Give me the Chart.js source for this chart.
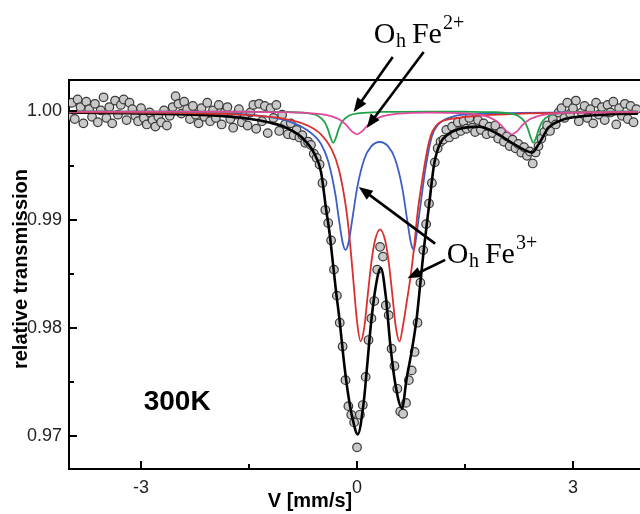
<!DOCTYPE html>
<html><head><meta charset="utf-8">
<script src="https://cdn.jsdelivr.net/npm/chart.js@4.4.0/dist/chart.umd.min.js"></script>
<style>html,body{margin:0;padding:0;background:#fff;overflow:hidden}canvas{display:block}</style>
</head><body><canvas id="c" width="640" height="514"></canvas>
<script>
// ---- tick labels ----
const xTicks = [-3, 0, 3];
const xMinorTicks = [-1.5, 1.5];
const yTicks = [0.97, 0.98, 0.99, 1.00];
const yMinorTicks = [0.975, 0.985, 0.995];

// ---- measured spectrum [velocity mm/s, relative transmission] ----
const measured = [
[-4.00,0.9996],[-3.96,1.0008],[-3.92,0.9993],[-3.88,1.0011],[-3.84,1.0004],[-3.80,0.9989],[-3.76,1.0009],[-3.72,1.0002],
[-3.68,0.9995],[-3.64,1.0007],[-3.60,0.9990],[-3.56,1.0001],[-3.52,1.0013],[-3.48,0.9994],[-3.44,1.0004],[-3.40,0.9989],
[-3.36,1.0010],[-3.32,0.9997],[-3.28,1.0006],[-3.24,1.0011],[-3.20,0.9992],[-3.16,1.0008],[-3.12,1.0002],[-3.08,0.9996],
[-3.04,0.9991],[-3.00,1.0003],[-2.96,0.9994],[-2.92,0.9988],[-2.88,0.9999],[-2.84,0.9992],[-2.80,0.9986],[-2.76,0.9995],
[-2.72,0.9990],[-2.68,1.0001],[-2.64,0.9987],[-2.60,0.9996],[-2.56,1.0004],[-2.52,1.0014],[-2.48,1.0007],[-2.44,0.9998],
[-2.40,1.0009],[-2.36,1.0002],[-2.32,0.9993],[-2.28,1.0005],[-2.24,0.9997],[-2.20,0.9989],[-2.16,1.0003],[-2.12,0.9995],
[-2.08,1.0008],[-2.04,0.9991],[-2.00,1.0001],[-1.96,0.9994],[-1.92,1.0006],[-1.88,0.9988],[-1.84,0.9999],[-1.80,1.0004],
[-1.76,0.9993],[-1.72,0.9985],[-1.68,0.9997],[-1.64,1.0002],[-1.60,0.9990],[-1.56,0.9996],[-1.52,0.9987],[-1.48,0.9999],
[-1.44,1.0006],[-1.40,0.9984],[-1.36,1.0007],[-1.32,0.9991],[-1.28,1.0005],[-1.24,0.9980],[-1.20,1.0003],[-1.16,0.9994],
[-1.12,1.0006],[-1.08,0.9982],[-1.04,0.9997],[-1.00,0.9988],[-0.96,0.9979],[-0.92,0.9989],[-0.88,0.9978],[-0.84,0.9983],
[-0.80,0.9976],[-0.76,0.9978],[-0.72,0.9971],[-0.68,0.9972],[-0.64,0.9969],[-0.60,0.9961],[-0.56,0.9957],[-0.52,0.9951],
[-0.48,0.9934],[-0.44,0.9909],[-0.40,0.9897],[-0.36,0.9881],[-0.32,0.9854],[-0.28,0.9830],[-0.24,0.9805],[-0.20,0.9783],
[-0.16,0.9752],[-0.12,0.9728],[-0.08,0.9720],[-0.04,0.9713],[0.00,0.9690],[0.04,0.9720],[0.08,0.9729],[0.12,0.9755],
[0.16,0.9789],[0.20,0.9809],[0.24,0.9825],[0.28,0.9854],[0.32,0.9875],[0.36,0.9866],[0.40,0.9821],[0.44,0.9812],
[0.48,0.9781],[0.52,0.9765],[0.56,0.9744],[0.60,0.9723],[0.64,0.9721],[0.68,0.9731],[0.72,0.9752],[0.76,0.9761],
[0.80,0.9778],[0.84,0.9805],[0.88,0.9842],[0.92,0.9872],[0.96,0.9896],[1.00,0.9915],[1.04,0.9934],[1.08,0.9953],
[1.12,0.9966],[1.16,0.9972],[1.20,0.9974],[1.24,0.9983],[1.28,0.9976],[1.32,0.9986],[1.36,0.9979],[1.40,0.9990],
[1.44,0.9982],[1.48,0.9991],[1.52,0.9984],[1.56,0.9994],[1.60,0.9985],[1.64,0.9981],[1.68,0.9992],[1.72,0.9983],
[1.76,0.9989],[1.80,0.9979],[1.84,0.9986],[1.88,0.9980],[1.92,0.9987],[1.96,0.9975],[2.00,0.9981],[2.04,0.9972],
[2.08,0.9977],[2.12,0.9968],[2.16,0.9974],[2.20,0.9966],[2.24,0.9970],[2.28,0.9962],[2.32,0.9967],[2.36,0.9959],
[2.40,0.9963],[2.44,0.9952],[2.48,0.9962],[2.52,0.9968],[2.56,0.9975],[2.60,0.9981],[2.64,0.9987],[2.68,0.9982],
[2.72,0.9993],[2.76,0.9988],[2.80,0.9999],[2.84,1.0003],[2.88,0.9994],[2.92,1.0008],[2.96,0.9998],[3.00,1.0003],
[3.04,1.0010],[3.08,0.9991],[3.12,0.9999],[3.16,1.0005],[3.20,0.9994],[3.24,1.0002],[3.28,0.9989],[3.32,1.0008],
[3.36,0.9997],[3.40,1.0004],[3.44,0.9992],[3.48,1.0006],[3.52,0.9999],[3.56,1.0009],[3.60,0.9988],[3.64,1.0003],
[3.68,0.9996],[3.72,1.0007],[3.76,0.9993],[3.80,1.0005],[3.84,0.9990],[3.88,1.0002]
];

// ---- total fit (black) ----
const fitTotal = [
[-4.0,0.99990],[-3.5,0.99987],[-3.0,0.99982],[-2.5,0.99974],[-2.0,0.99962],[-1.5,0.99933],[-1.2,0.99895],[-1.0,0.99855],
[-0.8,0.99780],[-0.7,0.99715],[-0.6,0.99620],[-0.5,0.99440],[-0.43,0.99100],[-0.38,0.98870],[-0.335,0.98600],[-0.29,0.98330],
[-0.24,0.98060],[-0.19,0.97740],[-0.13,0.97420],[-0.06,0.97160],[0.01,0.97020],[0.09,0.97300],[0.14,0.97646],[0.19,0.98015],
[0.26,0.98384],[0.33,0.98555],[0.40,0.98290],[0.46,0.97862],[0.53,0.97493],[0.625,0.97262],[0.69,0.97540],[0.76,0.97790],
[0.83,0.98100],[0.88,0.98420],[0.93,0.98740],[1.0,0.99130],[1.07,0.99510],[1.15,0.99700],[1.27,0.99790],[1.46,0.99845],
[1.69,0.99860],[1.92,0.99805],[2.15,0.99710],[2.34,0.99640],[2.43,0.99620],[2.52,0.99695],[2.66,0.99850],[2.85,0.99922],
[3.08,0.99952],[3.54,0.99974],[3.9,0.99980]
];

// ---- Oh Fe3+ doublet (blue) ----
const fitBlue = [
[-4,0.99996],[-2.5,0.99988],[-1.5,0.99970],[-1.0,0.99920],[-0.7,0.99830],[-0.5,0.99700],[-0.4,0.99540],[-0.3,0.99232],
[-0.25,0.98999],[-0.2,0.98790],[-0.16,0.98722],[-0.12,0.98783],[-0.07,0.98985],[0.0,0.99288],[0.1,0.99558],[0.2,0.99679],
[0.315,0.99718],[0.43,0.99679],[0.53,0.99558],[0.63,0.99288],[0.70,0.98985],[0.75,0.98783],[0.79,0.98722],[0.83,0.98880],
[0.88,0.99130],[0.95,0.99470],[1.04,0.99770],[1.13,0.99880],[1.32,0.99950],[1.63,0.99975],[2.13,0.99985],[3.13,0.99992],[3.9,0.99995]
];

// ---- Oh Fe3+ doublet (red) ----
const fitRed = [
[-4,0.99994],[-2.5,0.99986],[-1.5,0.99965],[-1.0,0.99930],[-0.7,0.99874],[-0.5,0.99788],[-0.35,0.99647],[-0.25,0.99459],
[-0.15,0.99098],[-0.1,0.98806],[-0.05,0.98434],[0.0,0.98062],[0.05,0.97878],[0.1,0.98004],[0.15,0.98312],[0.2,0.98610],
[0.25,0.98811],[0.32,0.98912],[0.39,0.98811],[0.44,0.98610],[0.49,0.98312],[0.54,0.98004],[0.59,0.97878],[0.64,0.98030],
[0.69,0.98240],[0.74,0.98460],[0.79,0.98730],[0.84,0.99060],[0.89,0.99300],[0.95,0.99550],[1.0,0.99720],[1.05,0.99820],
[1.13,0.99890],[1.37,0.99937],[2.14,0.99975],[3.14,0.99990],[3.9,0.99993]
];

// ---- Oh Fe2+ doublet (green) ----
const fitGreen = [
[-4,1.00000],[-2,0.99999],[-1,0.99995],[-0.7,0.99985],[-0.55,0.99962],[-0.45,0.99903],[-0.4,0.99827],[-0.37,0.99763],
[-0.33,0.99710],[-0.29,0.99763],[-0.26,0.99827],[-0.21,0.99903],[-0.11,0.99962],[0.04,0.99985],[0.34,0.99995],[1.0,0.99998],
[1.5,0.99997],[1.9,0.99993],[2.1,0.99983],[2.23,0.99962],[2.33,0.99903],[2.38,0.99827],[2.41,0.99763],[2.45,0.99710],
[2.49,0.99763],[2.52,0.99827],[2.57,0.99903],[2.67,0.99962],[2.8,0.99983],[3.0,0.99993],[3.4,0.99998],[3.9,1.00000]
];

// ---- Oh Fe2+ doublet (magenta) ----
const fitPink = [
[-4,0.99999],[-2.5,0.99999],[-1.5,0.99997],[-1.0,0.99993],[-0.7,0.99986],[-0.5,0.99975],[-0.35,0.99955],[-0.25,0.99927],
[-0.15,0.99875],[-0.07,0.99816],[0,0.99789],[0.07,0.99816],[0.15,0.99874],[0.25,0.99926],[0.35,0.99954],[0.5,0.99973],
[0.7,0.99984],[1.0,0.99988],[1.3,0.99987],[1.5,0.99982],[1.65,0.99973],[1.8,0.99954],[1.9,0.99926],[2.0,0.99874],
[2.08,0.99816],[2.15,0.99789],[2.22,0.99816],[2.3,0.99875],[2.4,0.99927],[2.5,0.99955],[2.65,0.99975],[2.85,0.99986],
[3.15,0.99993],[3.9,0.99997]
];

// ---- annotation anchors (data coordinates) ----
const arrows = [
  {from:[0.496,1.00503], to:[-0.046,0.99995]},
  {from:[0.926,1.00549], to:[0.135,0.99848]},
  {from:[1.085,0.98780], to:[0.024,0.99303]},
  {from:[1.225,0.98630], to:[0.700,0.98460]}
];
const labelFe2 = {at:[0.232,1.00632], sup:'2+'};
const labelFe3 = {at:[1.246,0.98602], sup:'3+'};
const labelTemp = {at:[-2.963,0.97246], text:'300K'};

const toXY = a => a.map(p => ({x:p[0], y:p[1]}));
const SANS = '"Liberation Sans", Arial, sans-serif';
const SERIF = '"Liberation Serif", "Times New Roman", serif';

function curve(data, color, width, order){
  return {data: toXY(data), showLine:true, borderColor:color, borderWidth:width, pointRadius:0,
          pointHoverRadius:0, fill:false, cubicInterpolationMode:'monotone', order:order};
}

function drawChem(ctx, x, y, sup){
  ctx.textAlign='left'; ctx.textBaseline='alphabetic'; ctx.fillStyle='#000';
  ctx.font='30px '+SERIF; ctx.fillText('O', x, y);
  let w = ctx.measureText('O').width;
  ctx.font='20px '+SERIF; ctx.fillText('h', x+w+0.5, y+4);
  w += 0.5 + ctx.measureText('h').width + 6;
  ctx.font='30px '+SERIF; ctx.fillText('Fe', x+w, y);
  w += ctx.measureText('Fe').width;
  ctx.font='20px '+SERIF; ctx.fillText(sup, x+w+1, y-14);
}

function drawArrow(ctx, x0, y0, x1, y1){
  const ang = Math.atan2(y1-y0, x1-x0), L = 14, H = 5.5;
  const bx = x1 - L*Math.cos(ang), by = y1 - L*Math.sin(ang);
  ctx.strokeStyle='#000'; ctx.lineWidth=2.6; ctx.lineCap='butt';
  ctx.beginPath(); ctx.moveTo(x0,y0); ctx.lineTo(bx+2*Math.cos(ang),by+2*Math.sin(ang)); ctx.stroke();
  ctx.fillStyle='#000'; ctx.beginPath();
  ctx.moveTo(x1,y1);
  ctx.lineTo(bx + H*Math.sin(ang), by - H*Math.cos(ang));
  ctx.lineTo(bx - H*Math.sin(ang), by + H*Math.cos(ang));
  ctx.closePath(); ctx.fill();
}

const decor = {
  id:'decor',
  afterDraw(chart){
    const {ctx, chartArea:a, scales:{x, y}} = chart;
    ctx.save();
    ctx.strokeStyle='#000'; ctx.lineWidth=2;
    const seg=(x0,y0,x1,y1)=>{ctx.beginPath();ctx.moveTo(x0,y0);ctx.lineTo(x1,y1);ctx.stroke();};
    yTicks.forEach(v=>{const p=Math.round(y.getPixelForValue(v)); seg(a.left,p,a.left+8,p);});
    yMinorTicks.forEach(v=>{const p=Math.round(y.getPixelForValue(v)); seg(a.left,p,a.left+5,p);});
    xTicks.forEach(v=>{const p=Math.round(x.getPixelForValue(v)); seg(p,a.bottom,p,a.bottom-8);});
    xMinorTicks.forEach(v=>{const p=Math.round(x.getPixelForValue(v)); seg(p,a.bottom,p,a.bottom-5);});

    arrows.forEach(r=>drawArrow(ctx, x.getPixelForValue(r.from[0]), y.getPixelForValue(r.from[1]),
                                     x.getPixelForValue(r.to[0]), y.getPixelForValue(r.to[1])));
    drawChem(ctx, x.getPixelForValue(labelFe2.at[0]), y.getPixelForValue(labelFe2.at[1]), labelFe2.sup);
    drawChem(ctx, x.getPixelForValue(labelFe3.at[0]), y.getPixelForValue(labelFe3.at[1]), labelFe3.sup);

    ctx.fillStyle='#000'; ctx.textAlign='left'; ctx.textBaseline='alphabetic';
    ctx.font='bold 28px '+SANS;
    ctx.fillText(labelTemp.text, x.getPixelForValue(labelTemp.at[0]), y.getPixelForValue(labelTemp.at[1]));

    // axis titles
    ctx.font='bold 20px '+SANS; ctx.textAlign='center';
    ctx.fillText('V [mm/s]', 310, 507);
    ctx.save(); ctx.translate(27, 269); ctx.rotate(-Math.PI/2);
    ctx.fillText('relative transmission', 0, 0);
    ctx.restore();
    ctx.restore();
  }
};

new Chart(document.getElementById('c'), {
  type:'scatter',
  data:{datasets:[
    curve(fitPink,  '#e0479e', 1.8, 0),
    curve(fitGreen, '#1fa34a', 1.8, 1),
    curve(fitRed,   '#d9302e', 1.8, 2),
    curve(fitBlue,  '#3b5fc4', 1.8, 3),
    curve(fitTotal, '#000000', 2.6, 4),
    {data: toXY(measured), pointRadius:4.3, pointBackgroundColor:'#c9c9c9', pointBorderColor:'#3a3a3a',
     pointBorderWidth:1.2, pointHoverRadius:4.3, showLine:false, order:5}
  ]},
  options:{
    responsive:false, animation:false, devicePixelRatio:1,
    layout:{padding:0, autoPadding:false},
    plugins:{legend:{display:false}, tooltip:{enabled:false}},
    events:[],
    scales:{
      x:{type:'linear', position:'bottom', min:-4, max:3.93,
         afterBuildTicks:s=>{s.ticks=xTicks.map(v=>({value:v}));},
         afterFit:s=>{s.height=45; s.paddingLeft=0; s.paddingRight=0;},
         ticks:{color:'#222', font:{family:SANS, size:18}, padding:8, maxRotation:0, callback:v=>String(v)},
         grid:{display:false, drawTicks:false}, border:{display:true, color:'#000', width:2}},
      x2:{type:'linear', position:'top', min:-4, max:3.93,
         afterFit:s=>{s.height=80; s.paddingLeft=0; s.paddingRight=0;},
         ticks:{display:false}, grid:{display:false, drawTicks:false}, border:{display:true, color:'#000', width:2}},
      y:{type:'linear', position:'left', min:0.967, max:1.0029,
         afterBuildTicks:s=>{s.ticks=yTicks.map(v=>({value:v}));},
         afterFit:s=>{s.width=69; s.paddingTop=0; s.paddingBottom=0;},
         ticks:{color:'#222', font:{family:SANS, size:18}, padding:7, callback:v=>Number(v).toFixed(2)},
         grid:{display:false, drawTicks:false}, border:{display:true, color:'#000', width:2}}
    }
  },
  plugins:[decor]
});
</script>
</body></html>
